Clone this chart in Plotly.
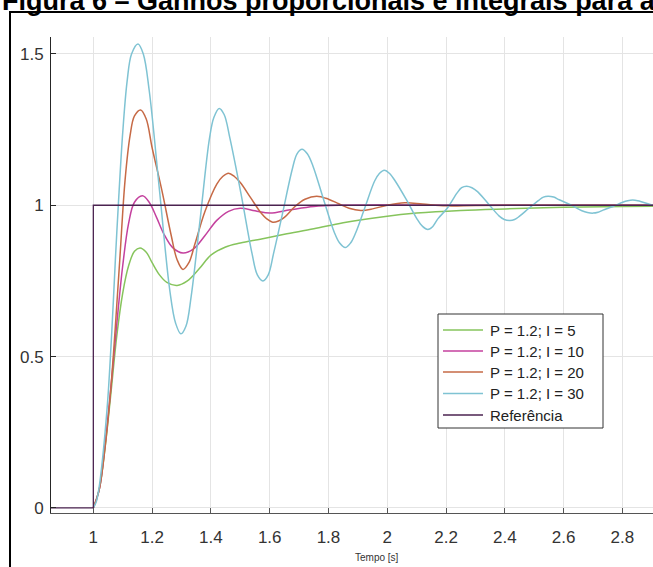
import plotly.graph_objects as go

# ---------------- data ----------------
t_i5 = [1.0, 1.02, 1.04, 1.06, 1.08, 1.10, 1.12, 1.14, 1.159, 1.18, 1.20, 1.225, 1.25, 1.285,
        1.32, 1.36, 1.40, 1.45, 1.50, 1.568, 1.65, 1.75, 1.85, 1.987, 2.1, 2.25, 2.4, 2.6, 2.8, 2.904]
y_i5 = [0.0, 0.06, 0.2, 0.38, 0.57, 0.71, 0.80, 0.848, 0.859, 0.845, 0.81, 0.77, 0.745, 0.735,
        0.75, 0.79, 0.835, 0.862, 0.875, 0.888, 0.904, 0.922, 0.942, 0.962, 0.974, 0.983, 0.988, 0.993, 0.996, 0.997]

t_i10 = [1.0, 1.02, 1.04, 1.06, 1.08, 1.10, 1.12, 1.14, 1.167, 1.19, 1.215, 1.24, 1.27, 1.305,
         1.34, 1.38, 1.42, 1.46, 1.50, 1.55, 1.60, 1.67, 1.75, 1.85, 2.0, 2.3, 2.6, 2.904]
y_i10 = [0.0, 0.06, 0.21, 0.40, 0.61, 0.80, 0.94, 1.01, 1.031, 1.01, 0.96, 0.905, 0.86, 0.842,
         0.855, 0.90, 0.95, 0.98, 0.99, 0.982, 0.974, 0.985, 0.996, 1.0, 1.001, 1.0, 1.0, 1.0]

t_i20 = [1.0, 1.02, 1.04, 1.06, 1.074, 1.09, 1.108, 1.125, 1.14, 1.161, 1.18, 1.20, 1.233, 1.265,
         1.285, 1.305, 1.325, 1.345, 1.38, 1.42, 1.44, 1.46, 1.48, 1.50, 1.535, 1.57, 1.59, 1.61, 1.63,
         1.65, 1.685, 1.72, 1.76, 1.80, 1.835, 1.87, 1.91, 1.95, 2.0, 2.06, 2.12, 2.2, 2.3, 2.5, 2.7, 2.904]
y_i20 = [0.0, 0.06, 0.2, 0.40, 0.586, 0.82, 1.083, 1.23, 1.295, 1.315, 1.285, 1.19, 1.05, 0.90,
         0.82, 0.788, 0.81, 0.87, 0.98, 1.07, 1.095, 1.106, 1.095, 1.075, 1.025, 0.975, 0.955, 0.944, 0.948,
         0.96, 0.995, 1.02, 1.03, 1.02, 1.005, 0.99, 0.983, 0.988, 1.0, 1.008, 1.004, 0.998, 0.999, 1.0, 1.0, 1.0]

t_i30 = [1.0, 1.01, 1.02, 1.03, 1.04, 1.05, 1.063, 1.075, 1.085, 1.10, 1.115, 1.13, 1.152, 1.17,
         1.19, 1.225, 1.26, 1.28, 1.298, 1.315, 1.333, 1.363, 1.395, 1.41, 1.428, 1.445, 1.465, 1.502,
         1.54, 1.558, 1.577, 1.595, 1.613, 1.643, 1.677, 1.693, 1.710, 1.728, 1.747, 1.783, 1.820, 1.838,
         1.857, 1.875, 1.893, 1.923, 1.957, 1.973, 1.990, 2.008, 2.027, 2.064, 2.101, 2.120, 2.138, 2.155,
         2.172, 2.204, 2.237, 2.253, 2.270, 2.288, 2.307, 2.343, 2.380, 2.398, 2.417, 2.433, 2.449, 2.482,
         2.515, 2.531, 2.547, 2.566, 2.585, 2.623, 2.662, 2.681, 2.700, 2.717, 2.734, 2.768, 2.801, 2.818,
         2.835, 2.852, 2.870, 2.904]
y_i30 = [0.0, 0.02, 0.07, 0.15, 0.25, 0.37, 0.586, 0.82, 1.0, 1.24, 1.41, 1.50, 1.533, 1.50,
         1.38, 1.05, 0.72, 0.61, 0.575, 0.60, 0.70, 0.95, 1.22, 1.29, 1.32, 1.30, 1.22, 1.04,
         0.84, 0.77, 0.75, 0.77, 0.84, 0.97, 1.12, 1.17, 1.185, 1.17, 1.13, 1.02, 0.91, 0.875,
         0.86, 0.875, 0.91, 0.99, 1.08, 1.105, 1.116, 1.105, 1.08, 1.02, 0.955, 0.93, 0.92, 0.93,
         0.955, 0.99, 1.04, 1.058, 1.063, 1.058, 1.045, 1.006, 0.965, 0.953, 0.95, 0.953, 0.963, 0.99,
         1.016, 1.027, 1.030, 1.027, 1.018, 1.002, 0.982, 0.976, 0.974, 0.977, 0.984, 0.996, 1.01, 1.015,
         1.017, 1.015, 1.01, 1.0]

t_ref = [0.856, 1.0, 1.0, 2.904]
y_ref = [0.0, 0.0, 1.0, 1.0]

names = ["P = 1.2; I = 5", "P = 1.2; I = 10", "P = 1.2; I = 20", "P = 1.2; I = 30", "Referência"]
colors = ["#86c45c", "#c4419e", "#c66a46", "#7fc3d3", "#4b2350"]
t_series = [t_i5, t_i10, t_i20, t_i30]
y_series = [y_i5, y_i10, y_i20, y_i30]

x_ticks = [1, 1.2, 1.4, 1.6, 1.8, 2, 2.2, 2.4, 2.6, 2.8]
x_labels = ["1", "1.2", "1.4", "1.6", "1.8", "2", "2.2", "2.4", "2.6", "2.8"]
y_ticks = [0, 0.5, 1, 1.5]
y_labels = ["0", "0.5", "1", "1.5"]

title_text = "Figura 6 – Ganhos proporcionais e integrais para a"
x_title = "Tempo [s]"

# ---------------- figure ----------------
FONT = "Liberation Sans, Arial, sans-serif"
L, T, W, H = 51, 37, 602, 476


def px(xp):
    return (xp - L) / W


def py(yp):
    return (T + H - yp) / H


fig = go.Figure()
for name, tx, ty, col in zip(names[:4], t_series, y_series, colors[:4]):
    fig.add_trace(go.Scatter(x=tx, y=ty, mode="lines", name=name,
                             line=dict(color=col, width=1.5, shape="spline", smoothing=1.0)))
fig.add_trace(go.Scatter(x=t_ref, y=y_ref, mode="lines", name=names[4],
                         line=dict(color=colors[4], width=1.3)))

annotations = [
    dict(text=x_title, xref="paper", yref="paper", x=px(377), y=py(557),
         xanchor="center", yanchor="middle", showarrow=False,
         font=dict(family=FONT, size=10, color="#333333")),
    dict(text="<b>" + title_text + "</b>", xref="paper", yref="paper",
         x=px(0), y=py(18), xanchor="left", yanchor="bottom",
         showarrow=False, font=dict(family=FONT, size=27, color="black")),
]
shapes = [
    dict(type="rect", xref="paper", yref="paper",
         x0=px(10), x1=1.2, y0=-0.3, y1=py(12),
         line=dict(color="black", width=2), fillcolor="rgba(0,0,0,0)", layer="below"),
    # legend box
    dict(type="rect", xref="paper", yref="paper",
         x0=px(438), x1=px(603), y0=py(428), y1=py(314),
         line=dict(color="#333333", width=1), fillcolor="white", layer="above"),
]
row_y = [330, 351, 372, 393.5, 415]
for i, (name, col) in enumerate(zip(names, colors)):
    shapes.append(dict(type="line", xref="paper", yref="paper",
                       x0=px(443), x1=px(483), y0=py(row_y[i]), y1=py(row_y[i]),
                       line=dict(color=col, width=1.3), layer="above"))
    annotations.append(dict(text=name, xref="paper", yref="paper", x=px(488), y=py(row_y[i]),
                            xanchor="left", yanchor="middle", showarrow=False,
                            font=dict(family=FONT, size=15, color="#222222")))

fig.update_layout(
    width=653, height=567,
    margin=dict(l=L, r=0, t=T, b=567 - T - H),
    paper_bgcolor="white", plot_bgcolor="white",
    showlegend=False,
    xaxis=dict(range=[0.856, 2.904], tickvals=x_ticks, ticktext=x_labels,
               showgrid=True, gridcolor="#e4e4e4", gridwidth=1,
               showline=True, linecolor="#555555", linewidth=1,
               ticks="inside", ticklen=5, tickcolor="#555555",
               ticklabelstandoff=9,
               tickfont=dict(family=FONT, size=17, color="#333333"),
               zeroline=False),
    yaxis=dict(range=[-0.017, 1.556], tickvals=y_ticks, ticktext=y_labels,
               showgrid=True, gridcolor="#e4e4e4", gridwidth=1,
               showline=True, linecolor="#262626", linewidth=1,
               ticks="inside", ticklen=5, tickcolor="#262626",
               ticklabelstandoff=3,
               tickfont=dict(family=FONT, size=17, color="#333333"),
               zeroline=False),
    annotations=annotations,
    shapes=shapes,
)

fig.write_html("out.html")
